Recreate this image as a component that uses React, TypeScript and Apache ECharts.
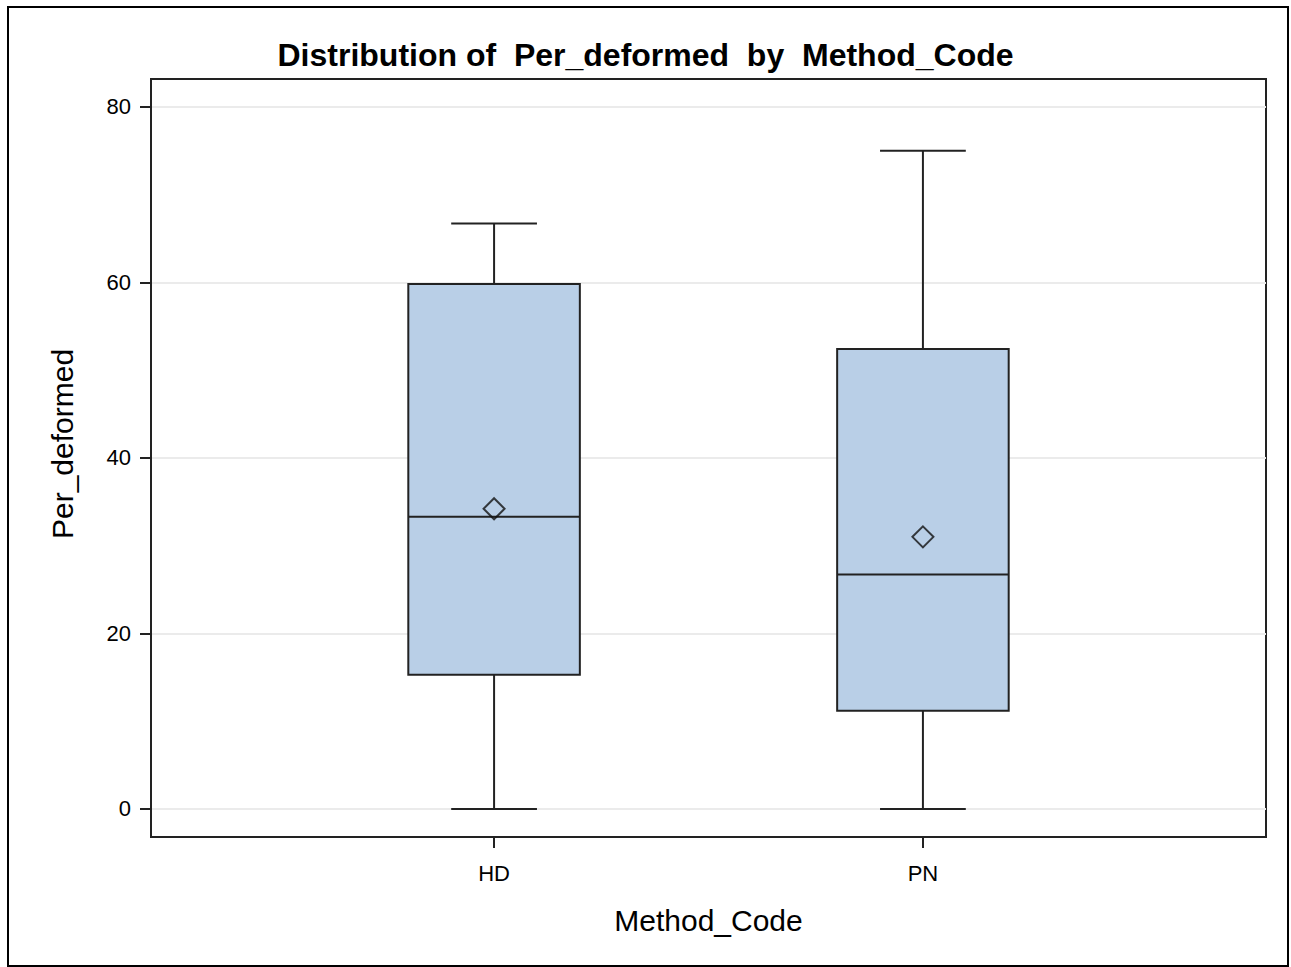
import React, { useEffect, useRef } from "react";
import * as echarts from "echarts";

const categories = ["HD", "PN"];
const positions = [1, 2];
const mins = [0, 0];
const q1s = [15.3, 11.2];
const medians = [33.3, 26.7];
const q3s = [59.8, 52.4];
const maxs = [66.7, 75.0];
const means = [34.2, 31.0];
const yTicks = [0, 20, 40, 60, 80];

const FONT = "'Liberation Sans', Arial, sans-serif";
const BOX_FRAC = 0.4;

export default function App() {
  const ref = useRef<HTMLDivElement>(null);
  useEffect(() => {
    document.body.style.margin = "0";
    if (!ref.current) return;
    const chart = echarts.init(ref.current, null, { renderer: "svg" });
    const boxData = positions.map((p, i) => [p, mins[i], q1s[i], medians[i], q3s[i], maxs[i]]);
    const meanData = positions.map((p, i) => [p, means[i]]);
    const stroke = "#222";
    chart.setOption({
      animation: false,
      backgroundColor: "#fff",
      title: {
        text: "Distribution of  Per_deformed  by  Method_Code",
        left: "center",
        top: 34,
        textStyle: { fontFamily: FONT, fontSize: 32, fontWeight: "bold", color: "#000" },
      },
      graphic: [
        {
          type: "rect",
          shape: { x: 8, y: 7, width: 1280, height: 959 },
          style: { fill: "none", stroke: "#000", lineWidth: 2 },
          silent: true,
        },
      ],
      grid: {
        left: 151,
        top: 79,
        right: 25,
        bottom: 130,
        show: true,
        borderColor: "#222",
        borderWidth: 2,
        backgroundColor: "transparent",
      },
      xAxis: {
        type: "value",
        min: 0.2,
        max: 2.8,
        name: "Method_Code",
        nameLocation: "middle",
        nameGap: 68,
        nameTextStyle: { fontFamily: FONT, fontSize: 30, color: "#000" },
        axisLine: { show: true, onZero: false, lineStyle: { color: "#222", width: 2 } },
        axisTick: { show: true, length: 11, customValues: positions, lineStyle: { color: "#222", width: 2 } },
        axisLabel: {
          customValues: positions,
          margin: 25,
          fontFamily: FONT,
          fontSize: 22,
          color: "#000",
          formatter: (v: number) => categories[Math.round(v) - 1] ?? "",
        },
        splitLine: { show: false },
      },
      yAxis: {
        type: "value",
        min: -3.19,
        max: 83.16,
        name: "Per_deformed",
        nameLocation: "middle",
        nameGap: 74,
        nameRotate: 90,
        nameTextStyle: { fontFamily: FONT, fontSize: 30, color: "#000", padding: [0, 0, 0, 28] },
        axisLine: { show: true, onZero: false, lineStyle: { color: "#222", width: 2 } },
        axisTick: { show: true, length: 11, customValues: yTicks, lineStyle: { color: "#222", width: 2 } },
        axisLabel: { customValues: yTicks, margin: 20, fontFamily: FONT, fontSize: 22, color: "#000" },
        splitLine: { show: true, lineStyle: { color: "#ebebeb", width: 2 } },
      },
      series: [
        {
          type: "custom",
          data: boxData,
          encode: { x: 0, y: [1, 2, 3, 4, 5] },
          renderItem: (params: any, api: any) => {
            const x = api.value(0);
            const lo = api.coord([x, api.value(1)]);
            const q1 = api.coord([x, api.value(2)]);
            const med = api.coord([x, api.value(3)]);
            const q3 = api.coord([x, api.value(4)]);
            const hi = api.coord([x, api.value(5)]);
            const bw = api.size([BOX_FRAC, 0])[0];
            const hw = bw / 2;
            const cw = bw / 4;
            const ls = { stroke, lineWidth: 2 };
            return {
              type: "group",
              children: [
                { type: "line", shape: { x1: lo[0], y1: lo[1], x2: q1[0], y2: q1[1] }, style: ls },
                { type: "line", shape: { x1: q3[0], y1: q3[1], x2: hi[0], y2: hi[1] }, style: ls },
                { type: "line", shape: { x1: lo[0] - cw, y1: lo[1], x2: lo[0] + cw, y2: lo[1] }, style: ls },
                { type: "line", shape: { x1: hi[0] - cw, y1: hi[1], x2: hi[0] + cw, y2: hi[1] }, style: ls },
                {
                  type: "rect",
                  shape: { x: q3[0] - hw, y: q3[1], width: bw, height: q1[1] - q3[1] },
                  style: { fill: "#b9cfe7", stroke, lineWidth: 2 },
                },
                { type: "line", shape: { x1: med[0] - hw, y1: med[1], x2: med[0] + hw, y2: med[1] }, style: ls },
              ],
            };
          },
          z: 2,
        },
        {
          type: "scatter",
          data: meanData,
          symbol: "diamond",
          symbolSize: 21,
          itemStyle: { color: "rgba(0,0,0,0)", borderColor: "#111", borderWidth: 2 },
          z: 3,
        },
      ],
    });
    return () => chart.dispose();
  }, []);
  return <div ref={ref} style={{ width: 1291, height: 967 }} />;
}
